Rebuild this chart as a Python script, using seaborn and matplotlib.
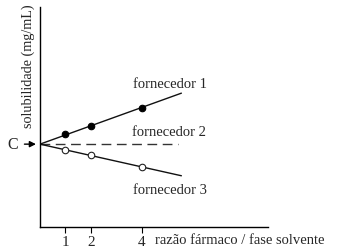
import matplotlib
matplotlib.use("Agg")
import matplotlib.pyplot as plt
import seaborn as sns
import pandas as pd

# data
ratio_pts = [1, 2, 4]
line_x = [0, 5.55]
c_level = 3.25
f1_pts = [3.65, 3.96, 4.67]
f1_line = [3.25, 5.25]
f2_line = [3.25, 3.25]
f2_x = [0, 5.4]
f3_pts = [3.03, 2.82, 2.37]
f3_line = [3.25, 2.01]
xticks = [1, 2, 4]
series_labels = ["fornecedor 1", "fornecedor 2", "fornecedor 3"]

sns.set_theme(style="white")
plt.rcParams['font.family'] = ['Liberation Serif', 'DejaVu Serif']

fig = plt.figure(figsize=(3.39, 2.53), dpi=100)
ax = fig.add_axes([40/339, 25/253, 228/339, 220/253])

sns.lineplot(x=line_x, y=f1_line, ax=ax, color='#111111', linewidth=1.0)
sns.lineplot(x=f2_x, y=f2_line, ax=ax, color='#333333', linewidth=1.0, linestyle=(0, (7, 4)))
sns.lineplot(x=line_x, y=f3_line, ax=ax, color='#111111', linewidth=1.0)
sns.scatterplot(x=ratio_pts, y=f1_pts, ax=ax, color='black', s=22, edgecolor='black', linewidth=0.8, zorder=3)
sns.scatterplot(x=ratio_pts, y=f3_pts, ax=ax, color='white', s=22, edgecolor='#222222', linewidth=0.8, zorder=3)

ax.set_xlim(0, 8.95)
ax.set_ylim(0, 8.63)
ax.set_xticks(xticks)
ax.set_xticklabels([str(t) for t in xticks], fontsize=11)
ax.set_yticks([])
ax.tick_params(axis='x', direction='out', length=4, width=0.8, color='black', pad=2, bottom=True)
for s in ['top', 'right']:
    ax.spines[s].set_visible(False)
for s in ['left', 'bottom']:
    ax.spines[s].set_color('black')
    ax.spines[s].set_linewidth(1.0)

ax.set_xlabel('')
ax.set_ylabel('solubilidade (mg/mL)', fontsize=10.2, labelpad=2)
ax.yaxis.set_label_coords(-0.022, 0.735)

fs = 10.5
ax.text(3.65, 5.61, series_labels[0], fontsize=fs, ha='left', va='center')
ax.text(3.62, 3.73, series_labels[1], fontsize=fs, ha='left', va='center')
ax.text(3.65, 1.49, series_labels[2], fontsize=fs, ha='left', va='center')
ax.text(4.5, -0.5, 'razão fármaco / fase solvente', fontsize=fs, ha='left', va='center', clip_on=False)

ax.annotate('', xy=(-0.05, c_level), xytext=(-0.72, c_level),
            arrowprops=dict(arrowstyle='-|>', color='black', lw=1.0, mutation_scale=9),
            annotation_clip=False)
ax.text(-0.85, c_level, 'C', fontsize=11.5, ha='right', va='center', clip_on=False)

fig.savefig('out.png', dpi=100)
